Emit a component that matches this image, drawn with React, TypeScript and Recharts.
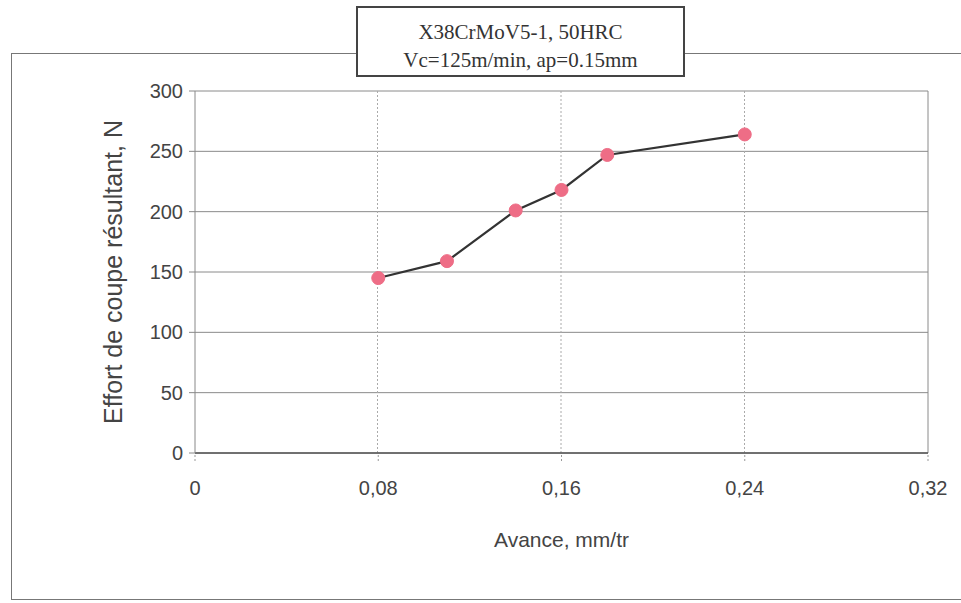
import React from "react"
import {
  CartesianGrid,
  Label,
  Line,
  LineChart,
  ReferenceLine,
  XAxis,
  YAxis,
} from "recharts"

// Feed (mm/rev) and resulting cutting force (N)
const avance = [0.08, 0.11, 0.14, 0.16, 0.18, 0.24]
const effort = [145, 159, 201, 218, 247, 264]

const xTicks = [0, 0.08, 0.16, 0.24, 0.32]
const yTicks = [0, 50, 100, 150, 200, 250, 300]

const data = avance.map((a, i) => ({ avance: a, effort: effort[i] }))

const sans = "'Liberation Sans', Arial, sans-serif"
const serif = "'Liberation Serif', 'Times New Roman', serif"

const fmtX = (v: number) => (v === 0 ? "0" : v.toFixed(2).replace(".", ","))

export default function App() {
  return (
    <div style={{ position: "absolute", left: 0, top: 0, width: 961, height: 603, background: "#fff", overflow: "hidden" }}>
      {/* outer chart frame */}
      <div
        style={{
          position: "absolute",
          left: 11,
          top: 53,
          width: 960,
          height: 547,
          border: "1px solid #777",
          boxSizing: "border-box",
        }}
      />
      <LineChart
        width={961}
        height={603}
        data={data}
        margin={{ top: 91, right: 33, bottom: 120, left: 135 }}
        style={{ position: "absolute", left: 0, top: 0 }}
      >
        <CartesianGrid vertical={false} stroke="#8a8a8a" strokeWidth={1} />
        <CartesianGrid horizontal={false} stroke="#aaa" strokeDasharray="2 2" verticalPoints={[377.5, 561, 744.5]} />
        <ReferenceLine x={0.32} stroke="#8a8a8a" strokeWidth={1} />
        <XAxis
          type="number"
          dataKey="avance"
          domain={[0, 0.32]}
          ticks={xTicks}
          tickFormatter={fmtX}
          height={30}
          axisLine={{ stroke: "#555", strokeWidth: 1.5 }}
          tickLine={{ stroke: "#999", strokeDasharray: "2 2" }}
          tickSize={8}
          tickMargin={20}
          tick={{ fontSize: 20, fill: "#444", fontFamily: sans }}
        >
          <Label
            value="Avance, mm/tr"
            position="center"
            dy={72}
            style={{ fontSize: 21, fill: "#444", fontFamily: sans }}
          />
        </XAxis>
        <YAxis
          type="number"
          domain={[0, 300]}
          ticks={yTicks}
          width={60}
          axisLine={{ stroke: "#888", strokeWidth: 1 }}
          tickLine={{ stroke: "#888" }}
          tickSize={6}
          tickMargin={6}
          tick={{ fontSize: 20, fill: "#444", fontFamily: sans }}
        >
          <Label
            value="Effort de coupe résultant, N"
            angle={-90}
            position="center"
            dx={-52}
            style={{ fontSize: 25, fill: "#444", fontFamily: sans, textAnchor: "middle" }}
          />
        </YAxis>
        <Line
          type="linear"
          dataKey="effort"
          stroke="#333"
          strokeWidth={2.2}
          dot={{ r: 6.5, fill: "#ee6d86", stroke: "#ee6d86", strokeWidth: 1 }}
          isAnimationActive={false}
        />
      </LineChart>
      {/* title box */}
      <div
        style={{
          position: "absolute",
          left: 356,
          top: 6,
          width: 329,
          height: 71,
          border: "2px solid #444",
          boxSizing: "border-box",
          background: "#fff",
          fontFamily: serif,
          fontSize: 21,
          color: "#333",
          lineHeight: "28px",
          textAlign: "center",
          paddingTop: 10,
        }}
      >
        X38CrMoV5-1, 50HRC
        <br />
        Vc=125m/min, ap=0.15mm
      </div>
    </div>
  )
}
